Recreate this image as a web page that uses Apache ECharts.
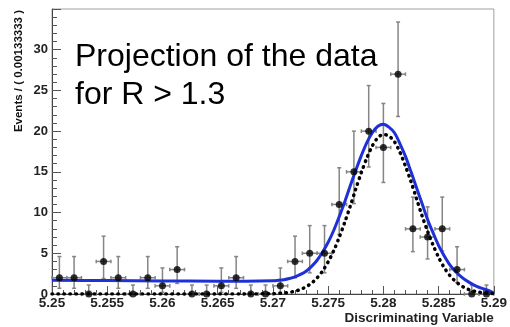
<!DOCTYPE html>
<html>
<head>
<meta charset="utf-8">
<script src="https://cdn.jsdelivr.net/npm/echarts@6/dist/echarts.min.js"></script>
<style>
html,body{margin:0;padding:0;background:#fff;}
#chart{width:510px;height:327px;}
</style>
</head>
<body>
<div id="chart"></div>
<script>
// ---- data ----
const binCenters = [5.25067, 5.25200, 5.25333, 5.25467, 5.25600, 5.25733, 5.25867, 5.26000, 5.26133, 5.26267,
                    5.26400, 5.26533, 5.26667, 5.26800, 5.26933, 5.27067, 5.27200, 5.27333, 5.27467, 5.27600,
                    5.27733, 5.27867, 5.28000, 5.28133, 5.28267, 5.28400, 5.28533, 5.28667, 5.28800, 5.28933];
const binHalfWidth = 0.000667;
const counts  = [2, 2, 0, 4, 2, 0, 2, 1, 3, 0, 0, 1, 2, 0, 0, 1, 4, 5, 5, 11, 15, 20, 18, 27, 8, 7, 8, 3, 0, 0];
const errLow  = [0.7, 0.7, 0, 1.9, 0.7, 0, 0.7, 0.2, 1.3, 0, 0, 0.2, 0.7, 0, 0, 0.2, 2.0, 2.6, 2.6, 7.3, 11.1, 15.6, 13.7, 21.8, 5.2, 4.3, 5.3, 1.4, 0, 0];
const errHigh = [4.6, 4.6, 1.1, 7.1, 4.6, 1.1, 4.6, 3.2, 5.8, 1.1, 1.1, 3.2, 4.6, 1.1, 1.1, 3.2, 7.1, 8.4, 8.4, 15.5, 20.0, 25.6, 23.4, 33.4, 11.9, 10.7, 11.9, 5.8, 1.1, 1.1];

const curveX = [5.2500, 5.2550, 5.2600, 5.2650, 5.2675, 5.2700, 5.2705, 5.2710, 5.2715, 5.2720,
                5.2725, 5.2730, 5.2735, 5.2740, 5.2745, 5.2750, 5.2755, 5.2760, 5.2765, 5.2770,
                5.2775, 5.2780, 5.2785, 5.2790, 5.2795, 5.2800, 5.2805, 5.2810, 5.2815, 5.2820,
                5.2825, 5.2830, 5.2835, 5.2840, 5.2845, 5.2850, 5.2855, 5.2860, 5.2865, 5.2870,
                5.2875, 5.2880, 5.2885, 5.2890, 5.2895, 5.2900];
const totalFit = [1.70, 1.65, 1.60, 1.58, 1.58, 1.62, 1.68, 1.76, 1.90, 2.10,
                  2.40, 2.80, 3.40, 4.15, 5.15, 6.35, 7.80, 9.50, 11.3, 13.3,
                  15.2, 17.0, 18.6, 19.8, 20.6, 20.85, 20.5, 19.8, 18.45, 16.9,
                  15.0, 13.05, 11.1, 9.15, 7.50, 5.95, 4.70, 3.60, 2.80, 2.17,
                  1.65, 1.25, 0.90, 0.66, 0.43, 0.12];
const signalFit = [0, 0, 0, 0, 0, 0.04, 0.07, 0.12, 0.21, 0.34,
                   0.56, 0.88, 1.34, 1.98, 2.84, 3.95, 5.30, 6.96, 8.80, 10.8,
                   12.9, 14.9, 16.7, 18.2, 19.2, 19.6, 19.4, 18.7, 17.4, 15.7,
                   13.8, 11.7, 9.60, 7.70, 6.00, 4.50, 3.25, 2.30, 1.58, 1.05,
                   0.68, 0.42, 0.26, 0.15, 0.08, 0.04];

const xTickMin = 5.25, xTickMax = 5.29, xTickStep = 0.005;
const yTickMin = 0, yTickMax = 35, yTickStep = 5;

const titleLines = ['Projection of the data', 'for R > 1.3'];
const xName = 'Discriminating Variable';
const yName = 'Events / ( 0.00133333 )';

// ---- build ----
const pointData = binCenters.map((x, i) => [x, counts[i]]);
const errData = binCenters.map((x, i) => [x, counts[i], errLow[i], errHigh[i], binHalfWidth]);
const totalData = curveX.map((x, i) => [x, totalFit[i]]);
const signalData = curveX.map((x, i) => [x, signalFit[i]]);

const barStyle = {stroke: '#858585', lineWidth: 1.5};
function renderErr(params, api) {
  const x = api.value(0), y = api.value(1), lo = api.value(2), hi = api.value(3), hw = api.value(4);
  const pLo = api.coord([x, lo]), pHi = api.coord([x, hi]);
  const pL = api.coord([x - hw, y]), pR = api.coord([x + hw, y]);
  const c = 2, d = 1.8;
  const ch = [
    {type: 'line', shape: {x1: pLo[0], y1: pLo[1], x2: pHi[0], y2: pHi[1]}, style: barStyle},
    {type: 'line', shape: {x1: pHi[0]-c, y1: pHi[1], x2: pHi[0]+c, y2: pHi[1]}, style: barStyle},
    {type: 'line', shape: {x1: pL[0], y1: pL[1], x2: pR[0], y2: pR[1]}, style: barStyle},
    {type: 'line', shape: {x1: pL[0], y1: pL[1]-d, x2: pL[0], y2: pL[1]+d}, style: barStyle},
    {type: 'line', shape: {x1: pR[0], y1: pR[1]-d, x2: pR[0], y2: pR[1]+d}, style: barStyle}
  ];
  if (lo > 0) ch.push({type: 'line', shape: {x1: pLo[0]-c, y1: pLo[1], x2: pLo[0]+c, y2: pLo[1]}, style: barStyle});
  return {type: 'group', children: ch};
}

const font = '"Liberation Sans", Arial, sans-serif';
const chart = echarts.init(document.getElementById('chart'), null, {renderer: 'canvas'});
chart.setOption({
  animation: false,
  backgroundColor: '#fff',
  title: {
    text: titleLines.join('\n'),
    left: 75, top: 38, padding: 0,
    textStyle: {fontFamily: font, fontSize: 32, fontWeight: 'normal', color: '#000', lineHeight: 38}
  },
  grid: {left: 52, right: 12, top: 9, bottom: 33, show: true, borderColor: '#a0a0a0', borderWidth: 1},
  xAxis: {
    type: 'value', min: xTickMin, max: xTickMax, interval: xTickStep,
    name: xName, nameLocation: 'end', nameGap: 0,
    nameTextStyle: {fontFamily: font, fontSize: 13.5, fontWeight: 'bold', color: '#222', align: 'right', verticalAlign: 'top', padding: [17, 0, 0, 0]},
    axisLine: {show: true, onZero: false, lineStyle: {color: '#444', width: 1}},
    axisTick: {show: true, inside: true, length: 8, lineStyle: {color: '#555'}},
    minorTick: {show: true, splitNumber: 5, length: 4, lineStyle: {color: '#555'}},
    axisLabel: {fontFamily: font, fontSize: 13.5, fontWeight: 'bold', color: '#222', margin: 2,
                formatter: v => String(+v.toFixed(3))},
    splitLine: {show: false}
  },
  yAxis: {
    type: 'value', min: yTickMin, max: yTickMax, interval: yTickStep,
    name: yName, nameLocation: 'end', nameGap: -1, nameRotate: 90,
    nameTextStyle: {fontFamily: font, fontSize: 11.5, fontWeight: 'bold', color: '#111',
                    align: 'right', verticalAlign: 'bottom', padding: [0, 0, 27, 0]},
    axisLine: {show: true, lineStyle: {color: '#444', width: 1}},
    axisTick: {show: true, inside: true, length: 9, lineStyle: {color: '#555'}},
    minorTick: {show: true, splitNumber: 5, length: 5, lineStyle: {color: '#555'}},
    axisLabel: {fontFamily: font, fontSize: 13, fontWeight: 'bold', color: '#222', margin: 4,
                formatter: v => (v >= yTickMax ? '' : String(v))},
    splitLine: {show: false}
  },
  series: [
    {type: 'custom', renderItem: renderErr, data: errData, z: 2, silent: true},
    {type: 'line', data: totalData, smooth: 0.3, showSymbol: false, z: 3,
     lineStyle: {color: '#1e30d8', width: 3}},
    {type: 'line', data: signalData, smooth: 0.3, showSymbol: false, z: 4,
     lineStyle: {color: '#000', width: 3.5, type: [0.5, 5.5], cap: 'round'}},
    {type: 'scatter', data: pointData, symbol: 'circle', symbolSize: 7, z: 5,
     itemStyle: {color: '#000'}}
  ]
});
</script>
</body>
</html>
